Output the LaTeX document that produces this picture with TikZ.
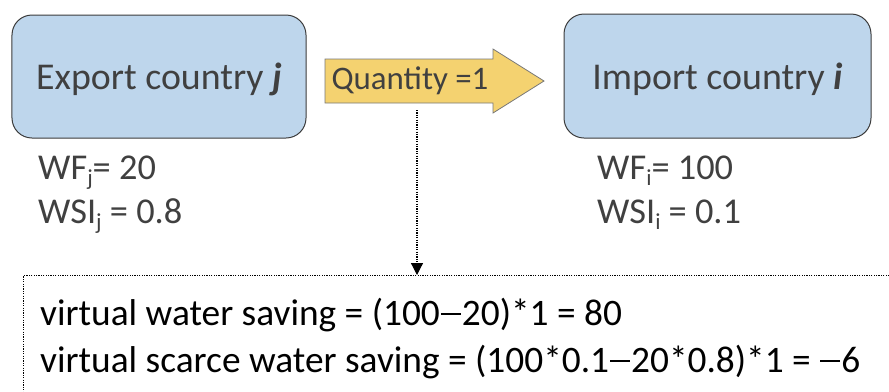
\documentclass[tikz,border=0pt]{standalone}
\usepackage{fontspec}
\setmainfont{Carlito}
\usetikzlibrary{arrows.meta}
\definecolor{boxblue}{RGB}{190,214,236}
\definecolor{boxline}{RGB}{60,60,60}
\definecolor{qyellow}{RGB}{244,210,112}
\definecolor{qline}{RGB}{120,120,120}
\definecolor{txtgray}{RGB}{64,64,64}
\newcommand{\subx}[1]{\raisebox{-6bp}{\fontsize{23}{23}\selectfont #1}}
\newcommand{\mminus}{\kern1bp\raisebox{0.27em}{\rule{20bp}{1.8bp}}\kern1bp}
\begin{document}
\begin{tikzpicture}[x=1bp,y=-1bp,
  country/.style={draw=boxline, line width=1bp, fill=boxblue, rounded corners=20bp,
    text=txtgray, font=\fontsize{38}{44}\selectfont, inner sep=0pt, text depth=0pt},
  qarrow/.style={draw=qline, line width=0.8bp, fill=qyellow},
  qtext/.style={text=txtgray, font=\fontsize{33}{38}\selectfont, inner sep=0pt},
  wf/.style={text=txtgray, font=\fontsize{36.5}{42}\selectfont, inner sep=0pt, anchor=base west},
  res/.style={text=black, font=\fontsize{37.5}{42}\selectfont, inner sep=0pt, anchor=base west},
  dotline/.style={line width=1.2bp, dash pattern=on 1.2bp off 1.2bp},
  resbox/.style={draw, dotline, minimum width=1000bp, minimum height=200bp, anchor=north west, inner sep=0pt}]
\useasboundingbox (0,0) rectangle (889,391);
\clip (0,0) rectangle (889,391);
% country boxes
\node[country, minimum width=294bp, minimum height=123bp] (exp) at (159,76.5) {Export country {\bfseries\itshape j}};
\node[country, minimum width=307bp, minimum height=124bp] (imp) at (717.5,76) {Import country {\bfseries\itshape i}};
% quantity arrow
\draw[qarrow] (325,59) -- (493,59) -- (493,49) -- (544,81) -- (493,113) -- (493,103) -- (325,103) -- cycle;
\node[qtext] (qty) at (410,81) {Quantity =1};
% water footprint values
\node[wf] (wfj) at (38,179) {WF\subx{j}= 20};
\node[wf] (wsij) at (38,223) {WSI\subx{j} = 0.8};
\node[wf] (wfi) at (597,179) {WF\subx{i}= 100};
\node[wf] (wsii) at (597,223) {WSI\subx{i} = 0.1};
% result box
\node[resbox] (result) at (23,275) {};
\node[res] (line1) at (40,325) {virtual water saving = (100\mminus20)*1 = 80};
\node[res] (line2) at (40,372) {virtual scarce water saving = (100*0.1\mminus20*0.8)*1 = \mminus6};
% connector
\coordinate (dstart) at (417,110);
\draw[dotline, -{Triangle[width=12bp,length=12bp]}] (dstart) -- (dstart |- result.north);
\end{tikzpicture}
\end{document}
